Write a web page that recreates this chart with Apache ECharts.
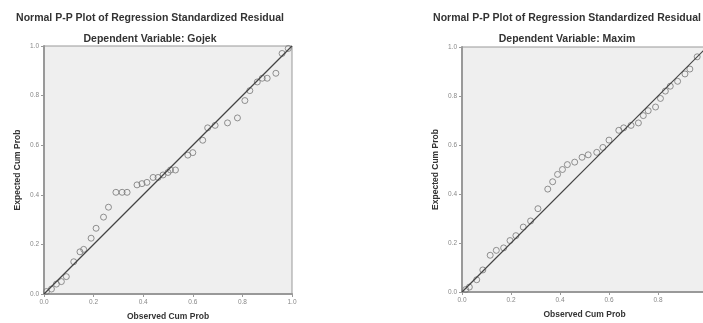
<!DOCTYPE html>
<html>
<head>
<meta charset="utf-8">
<script src="https://cdn.jsdelivr.net/npm/echarts@6/dist/echarts.min.js"></script>
<style>
  html, body { margin: 0; padding: 0; background: #fff; }
  #chart { width: 703px; height: 323px; }
</style>
</head>
<body>
<div id="chart"></div>
<script>
// P-P plot values
var ticks = [0, 0.2, 0.4, 0.6, 0.8, 1.0];

var gojekObs = [0.01, 0.03, 0.05, 0.07, 0.09, 0.12, 0.145, 0.16, 0.19, 0.21, 0.24, 0.26, 0.29, 0.315, 0.335, 0.375, 0.395, 0.415, 0.44, 0.46, 0.48, 0.50, 0.51, 0.53, 0.58, 0.60, 0.64, 0.66, 0.69, 0.74, 0.78, 0.81, 0.83, 0.86, 0.88, 0.90, 0.935, 0.96, 0.985];
var gojekExp = [0.01, 0.02, 0.04, 0.05, 0.07, 0.13, 0.17, 0.18, 0.225, 0.265, 0.31, 0.35, 0.41, 0.41, 0.41, 0.44, 0.445, 0.45, 0.47, 0.47, 0.48, 0.49, 0.50, 0.50, 0.56, 0.57, 0.62, 0.67, 0.68, 0.69, 0.71, 0.78, 0.82, 0.855, 0.87, 0.87, 0.89, 0.97, 0.99];

var maximObs = [0.015, 0.03, 0.06, 0.085, 0.115, 0.14, 0.17, 0.196, 0.22, 0.25, 0.28, 0.31, 0.35, 0.37, 0.39, 0.41, 0.43, 0.46, 0.49, 0.515, 0.55, 0.575, 0.60, 0.64, 0.66, 0.69, 0.72, 0.74, 0.76, 0.79, 0.81, 0.83, 0.85, 0.88, 0.91, 0.93, 0.96];
var maximExp = [0.01, 0.02, 0.05, 0.09, 0.15, 0.17, 0.18, 0.21, 0.23, 0.265, 0.29, 0.34, 0.42, 0.45, 0.48, 0.50, 0.52, 0.53, 0.55, 0.56, 0.57, 0.59, 0.62, 0.66, 0.67, 0.68, 0.69, 0.72, 0.74, 0.755, 0.79, 0.82, 0.84, 0.86, 0.89, 0.91, 0.96];

var diagonal = [[0, 0], [1, 1]];

function pairs(xs, ys) {
  var out = [];
  for (var i = 0; i < xs.length; i++) out.push([xs[i], ys[i]]);
  return out;
}

var font = 'Liberation Sans, Arial, sans-serif';

function valueAxis(idx, name, isY) {
  return {
    type: 'value',
    gridIndex: idx,
    min: ticks[0],
    max: ticks[ticks.length - 1],
    interval: 0.2,
    name: name,
    nameLocation: 'middle',
    nameGap: isY ? 22 : 18,
    nameRotate: isY ? 90 : 0,
    nameTextStyle: { fontFamily: font, fontSize: 8.5, fontWeight: 'bold', color: '#333' },
    axisLine: { show: true, lineStyle: { color: '#999', width: 2 } },
    axisTick: { show: true, length: 3, lineStyle: { color: '#999' } },
    axisLabel: {
      fontFamily: font, fontSize: 6.5, color: '#888', margin: 5,
      formatter: function (v) { return v.toFixed(1); }
    },
    splitLine: { show: false }
  };
}

function titles(left, sub) {
  var ts = { fontFamily: font, fontSize: 10.5, fontWeight: 'bold', color: '#333' };
  return [
    { text: 'Normal P-P Plot of Regression Standardized Residual', left: left, top: 13, padding: 0,
      textAlign: 'center', textStyle: ts },
    { text: sub, left: left, top: 34, padding: 0, textAlign: 'center', textStyle: ts }
  ];
}

var chart = echarts.init(document.getElementById('chart'));
var option = {
  backgroundColor: '#fff',
  animation: false,
  title: titles(150, 'Dependent Variable: Gojek').concat(titles(567, 'Dependent Variable: Maxim')),
  grid: [
    { left: 44, top: 46, width: 248, height: 248, show: true, backgroundColor: '#efefef',
      borderColor: '#999', borderWidth: 1, outerBoundsMode: 'none' },
    { left: 462, top: 47, width: 245, height: 245, show: true, backgroundColor: '#efefef',
      borderColor: '#999', borderWidth: 1, outerBoundsMode: 'none' }
  ],
  xAxis: [
    valueAxis(0, 'Observed Cum Prob', false),
    valueAxis(1, 'Observed Cum Prob', false)
  ],
  yAxis: [
    valueAxis(0, 'Expected Cum Prob', true),
    valueAxis(1, 'Expected Cum Prob', true)
  ],
  series: [
    { type: 'line', xAxisIndex: 0, yAxisIndex: 0, data: diagonal, showSymbol: false,
      lineStyle: { color: '#444', width: 1.2 } },
    { type: 'scatter', xAxisIndex: 0, yAxisIndex: 0, data: pairs(gojekObs, gojekExp), symbolSize: 6,
      itemStyle: { color: 'transparent', borderColor: '#777', borderWidth: 1 } },
    { type: 'line', xAxisIndex: 1, yAxisIndex: 1, data: diagonal, showSymbol: false,
      lineStyle: { color: '#444', width: 1.2 } },
    { type: 'scatter', xAxisIndex: 1, yAxisIndex: 1, data: pairs(maximObs, maximExp), symbolSize: 6,
      itemStyle: { color: 'transparent', borderColor: '#777', borderWidth: 1 } }
  ]
};
chart.setOption(option);
</script>
</body>
</html>
